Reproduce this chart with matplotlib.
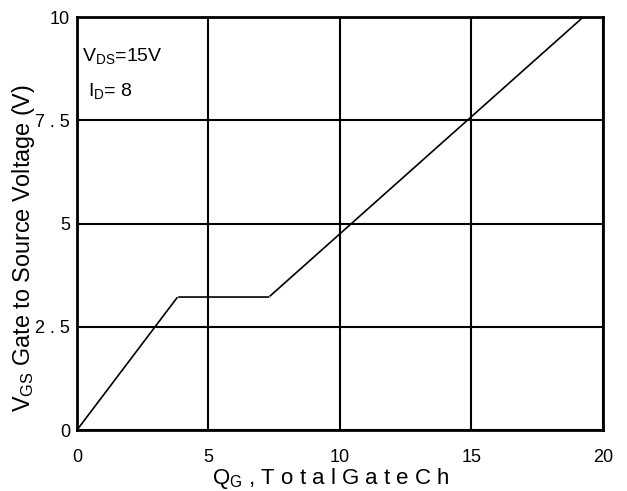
import numpy as np
import matplotlib
matplotlib.use("Agg")
import matplotlib.pyplot as plt

plt.rcParams['font.family'] = ['Liberation Sans', 'DejaVu Sans']
plt.rcParams['mathtext.fontset'] = 'custom'
plt.rcParams['mathtext.rm'] = 'Liberation Sans'
plt.rcParams['mathtext.it'] = 'Liberation Sans'

# Gate charge curve (segments separated by NaN)
qg = [0.0, 3.80, np.nan, 3.88, 7.28, np.nan, 7.35, 19.25]
vgs = [0.0, 3.20, np.nan, 3.22, 3.22, np.nan, 3.25, 10.0]

xticks = [0, 5, 10, 15, 20]
xticklabels = ["0", "5", "10", "15", "20"]
yticks = [0, 2.5, 5, 7.5, 10]
yticklabels = ["0", "2 . 5", "5", "7 . 5", "10"]

fig = plt.figure(figsize=(6.27, 4.91), dpi=100)
ax = fig.add_axes([0.1228, 0.1242, 0.8389, 0.8411])
ax.plot(qg, vgs, color='black', lw=1.2)
ax.set_xlim(0, 20)
ax.set_ylim(0, 10)
ax.set_xticks(xticks)
ax.set_xticklabels(xticklabels)
ax.set_yticks(yticks)
ax.set_yticklabels(yticklabels)
ax.tick_params(length=0, labelsize=13)
ax.tick_params(axis='x', pad=14)
ax.tick_params(axis='y', pad=5)
ax.grid(True, color='black', lw=1.5)
ax.set_axisbelow(True)
for s in ax.spines.values():
    s.set_linewidth(2)

ax.text(0.2, 9.06, r"V$_{\mathrm{DS}}$=15V", fontsize=14, va='center', ha='left')
ax.text(0.42, 8.2, r"I$_{\mathrm{D}}$= 8", fontsize=14, va='center', ha='left')

fig.text(0.527, 0.026, r"Q$_{\mathrm{G}}$ , T o t a l G a t e C h", fontsize=16, ha='center', va='center')
fig.text(0.037, 0.495, r"V$_{\mathrm{GS}}$ Gate to Source Voltage (V)", fontsize=16.8,
         rotation=90, ha='center', va='center')

fig.savefig("out.png", dpi=100)
